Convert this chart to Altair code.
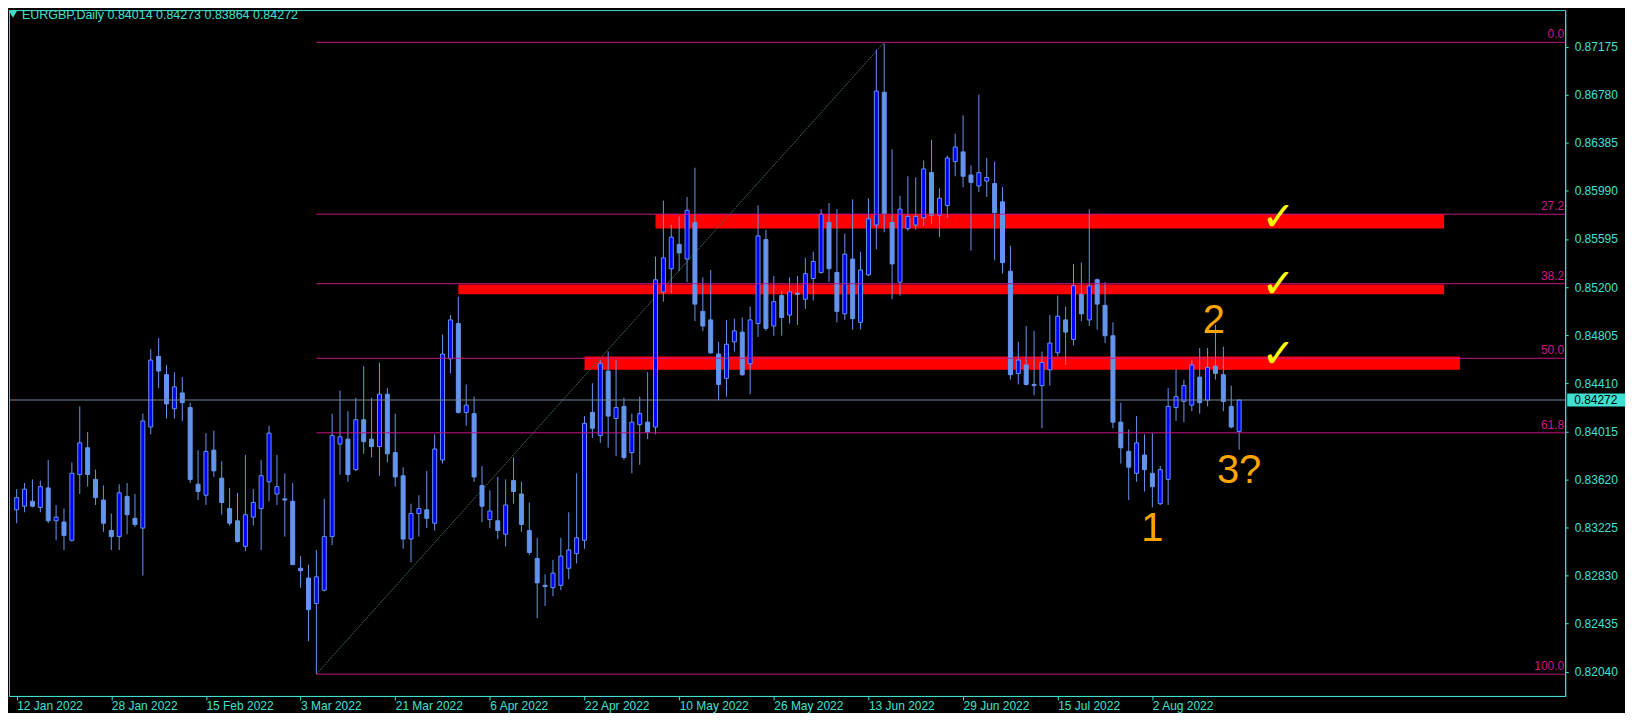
import altair as alt
import pandas as pd

# ---- daily candles EURGBP (bar 0 = 12 Jan 2022, weekdays only) ----
opens = [0.8337, 0.8340, 0.8344, 0.8339, 0.8355, 0.8328, 0.8327, 0.8312, 0.8366, 0.8388,
         0.8362, 0.8345, 0.8320, 0.8315, 0.8348, 0.8330, 0.8322, 0.8405, 0.8463, 0.8448,
         0.8420, 0.8433, 0.8421, 0.8358, 0.8349, 0.8386, 0.8363, 0.8338, 0.8328, 0.8307,
         0.8331, 0.8338, 0.8360, 0.8350, 0.8346, 0.8344, 0.8289, 0.8281, 0.8260, 0.8271,
         0.8315, 0.8391, 0.8395, 0.8370, 0.8411, 0.8395, 0.8389, 0.8432, 0.8384, 0.8365,
         0.8313, 0.8334, 0.8337, 0.8326, 0.8378, 0.8461, 0.8490, 0.8417, 0.8416, 0.8357,
         0.8329, 0.8328, 0.8317, 0.8361, 0.8350, 0.8320, 0.8297, 0.8275, 0.8273, 0.8275,
         0.8289, 0.8301, 0.8312, 0.8417, 0.8398, 0.8451, 0.8412, 0.8422, 0.8384, 0.8407,
         0.8409, 0.8405, 0.8516, 0.8535, 0.8555, 0.8543, 0.8573, 0.8500, 0.8493, 0.8465,
         0.8445, 0.8475, 0.8483, 0.8457, 0.8490, 0.8559, 0.8488, 0.8513, 0.8497, 0.8515,
         0.8510, 0.8527, 0.8532, 0.8573, 0.8532, 0.8498, 0.8543, 0.8491, 0.8530, 0.8571,
         0.8680, 0.8573, 0.8524, 0.8568, 0.8571, 0.8577, 0.8614, 0.8579, 0.8587, 0.8623,
         0.8631, 0.8612, 0.8603, 0.8607, 0.8605, 0.8590, 0.8533, 0.8449, 0.8456, 0.8440,
         0.8439, 0.8452, 0.8466, 0.8493, 0.8477, 0.8514, 0.8493, 0.8526, 0.8505, 0.8480,
         0.8409, 0.8385, 0.8367, 0.8382, 0.8367, 0.8342, 0.8362, 0.8421, 0.8426, 0.8423,
         0.8446, 0.8427, 0.8455, 0.8448, 0.8422, 0.84014]
highs = [0.8354, 0.8359, 0.8362, 0.8361, 0.8378, 0.8341, 0.8338, 0.8376, 0.8422, 0.8401,
         0.8370, 0.8357, 0.8334, 0.8358, 0.8359, 0.8350, 0.8416, 0.8469, 0.8478, 0.8456,
         0.8450, 0.8446, 0.8425, 0.8386, 0.8400, 0.8402, 0.8377, 0.8355, 0.8351, 0.8382,
         0.8354, 0.8378, 0.8406, 0.8382, 0.8367, 0.8359, 0.8299, 0.8292, 0.8304, 0.8346,
         0.8416, 0.8435, 0.8418, 0.8429, 0.8455, 0.8429, 0.8458, 0.8437, 0.8416, 0.8372,
         0.8342, 0.8349, 0.8369, 0.8399, 0.8481, 0.8497, 0.8512, 0.8440, 0.8430, 0.8373,
         0.8353, 0.8364, 0.8362, 0.8380, 0.8360, 0.8343, 0.8314, 0.8284, 0.8296, 0.8314,
         0.8335, 0.8367, 0.8414, 0.8441, 0.8460, 0.8467, 0.8460, 0.8429, 0.8416, 0.8430,
         0.8450, 0.8545, 0.8591, 0.8571, 0.8578, 0.8594, 0.8618, 0.8528, 0.8534, 0.8475,
         0.8493, 0.8494, 0.8495, 0.8504, 0.8587, 0.8567, 0.8529, 0.8517, 0.8528, 0.8529,
         0.8544, 0.8549, 0.8584, 0.8589, 0.8584, 0.8564, 0.8592, 0.8549, 0.8593, 0.8715,
         0.8720, 0.8633, 0.8595, 0.8611, 0.8610, 0.8624, 0.8641, 0.8601, 0.8628, 0.8646,
         0.8661, 0.8620, 0.8678, 0.8626, 0.8623, 0.8602, 0.8554, 0.8475, 0.8488, 0.8484,
         0.8467, 0.8497, 0.8513, 0.8504, 0.8539, 0.8540, 0.8584, 0.8527, 0.8524, 0.8491,
         0.8425, 0.8403, 0.8414, 0.8399, 0.8400, 0.8373, 0.8437, 0.8452, 0.8444, 0.8460,
         0.8470, 0.8470, 0.8489, 0.8471, 0.8439, 0.84273]
lows = [0.8326, 0.8335, 0.8339, 0.8335, 0.8326, 0.8312, 0.8304, 0.8311, 0.8350, 0.8356,
        0.8341, 0.8319, 0.8304, 0.8304, 0.8317, 0.8323, 0.8283, 0.8399, 0.8437, 0.8412,
        0.8412, 0.8410, 0.8359, 0.8345, 0.8341, 0.8364, 0.8333, 0.8324, 0.8310, 0.8303,
        0.8324, 0.8304, 0.8344, 0.8341, 0.8315, 0.8292, 0.8273, 0.8229, 0.8202, 0.8270,
        0.8308, 0.8366, 0.8360, 0.8369, 0.8383, 0.8380, 0.8365, 0.8376, 0.8356, 0.8305,
        0.8294, 0.8315, 0.8322, 0.8320, 0.8375, 0.8449, 0.8416, 0.8406, 0.8360, 0.8327,
        0.8322, 0.8313, 0.8307, 0.8342, 0.8319, 0.8300, 0.8248, 0.8258, 0.8266, 0.8271,
        0.8280, 0.8293, 0.8305, 0.8396, 0.8392, 0.8388, 0.8381, 0.8378, 0.8367, 0.8374,
        0.8395, 0.8399, 0.8508, 0.8515, 0.8533, 0.8524, 0.8492, 0.8484, 0.8465, 0.8427,
        0.8430, 0.8467, 0.8447, 0.8432, 0.8479, 0.8484, 0.8480, 0.8480, 0.8490, 0.8489,
        0.8502, 0.8509, 0.8531, 0.8524, 0.8491, 0.8493, 0.8485, 0.8485, 0.8529, 0.8551,
        0.8565, 0.8510, 0.8513, 0.8566, 0.8567, 0.8570, 0.8572, 0.8561, 0.8577, 0.8611,
        0.8602, 0.8550, 0.8598, 0.8594, 0.8542, 0.8531, 0.8444, 0.8440, 0.8439, 0.8431,
        0.8404, 0.8439, 0.8463, 0.8456, 0.8472, 0.8492, 0.8488, 0.8485, 0.8474, 0.8404,
        0.8375, 0.8345, 0.8360, 0.8352, 0.8339, 0.8341, 0.8341, 0.8410, 0.8409, 0.8418,
        0.8416, 0.8422, 0.8444, 0.8418, 0.8404, 0.83864]
closes = [0.8347, 0.8354, 0.8340, 0.8356, 0.8328, 0.8331, 0.8316, 0.8367, 0.8392, 0.8366,
          0.8347, 0.8326, 0.8315, 0.8351, 0.8333, 0.8325, 0.8410, 0.8460, 0.8451, 0.8424,
          0.8438, 0.8425, 0.8362, 0.8352, 0.8385, 0.8369, 0.8343, 0.8326, 0.8311, 0.8333,
          0.8343, 0.8365, 0.8400, 0.8356, 0.8345, 0.8292, 0.8287, 0.8255, 0.8282, 0.8315,
          0.8398, 0.8397, 0.8366, 0.8411, 0.8393, 0.8389, 0.8432, 0.8383, 0.8364, 0.8313,
          0.8334, 0.8338, 0.8330, 0.8387, 0.8465, 0.8493, 0.8417, 0.8423, 0.8364, 0.8340,
          0.8336, 0.8320, 0.8341, 0.8352, 0.8325, 0.8302, 0.8277, 0.8274, 0.8285, 0.8299,
          0.8304, 0.8314, 0.8408, 0.8404, 0.8457, 0.8414, 0.8421, 0.8380, 0.8409, 0.8416,
          0.8401, 0.8526, 0.8544, 0.8561, 0.8548, 0.8583, 0.8506, 0.8488, 0.8466, 0.8440,
          0.8473, 0.8484, 0.8448, 0.8493, 0.8562, 0.8486, 0.8508, 0.8495, 0.8516, 0.8514,
          0.8531, 0.8541, 0.8580, 0.8535, 0.8500, 0.8547, 0.8494, 0.8534, 0.8576, 0.8681,
          0.8580, 0.8539, 0.8584, 0.8578, 0.8578, 0.8617, 0.8579, 0.8593, 0.8626, 0.8635,
          0.8611, 0.8606, 0.8614, 0.8610, 0.8581, 0.8540, 0.8448, 0.8460, 0.8440, 0.8439,
          0.8458, 0.8474, 0.8496, 0.8483, 0.8521, 0.8498, 0.8521, 0.8506, 0.8480, 0.8409,
          0.8388, 0.8372, 0.8392, 0.8370, 0.8356, 0.8370, 0.8422, 0.8430, 0.8439, 0.8456,
          0.8425, 0.8454, 0.8449, 0.8426, 0.8405, 0.84272]

# ---- axes ----
date_tick_bars = [0, 12, 24, 36, 48, 60, 72, 84, 96, 108, 120, 132, 144]
date_tick_labels = ["12 Jan 2022", "28 Jan 2022", "15 Feb 2022", "3 Mar 2022", "21 Mar 2022",
                    "6 Apr 2022", "22 Apr 2022", "10 May 2022", "26 May 2022", "13 Jun 2022",
                    "29 Jun 2022", "15 Jul 2022", "2 Aug 2022"]
price_ticks = [0.87175, 0.86780, 0.86385, 0.85990, 0.85595, 0.85200, 0.84805,
               0.84410, 0.84015, 0.83620, 0.83225, 0.82830, 0.82435, 0.82040]

# ---- Fibonacci retracement ----
fib_high = 0.8721
fib_low = 0.8202
fib_low_bar = 38
fib_high_bar = 110
fib_levels = [0.0, 27.2, 38.2, 50.0, 61.8, 100.0]
fib_texts = ["0.0", "27.2", "38.2", "50.0", "61.8", "100.0"]

# ---- red zones ----
zone_start = [81, 56, 72]
zone_end = [181, 181, 183]
zone_low = [0.8568, 0.8514, 0.8452]
zone_high = [0.8580, 0.8522, 0.8463]

# ---- annotations ----
wave_text = ["1", "2", "3?"]
wave_bar = [144, 151.8, 155]
wave_price = [0.8321, 0.8492, 0.8369]
check_bar = [160, 160, 160]
check_price = [0.8577, 0.8522, 0.8464]

last_price = closes[-1]
header = "EURGBP,Daily  %.5f %.5f %.5f %.5f" % (opens[-1], highs[-1], lows[-1], closes[-1])

W, H = 1561, 688
AXC = "#40E0D0"
FONT = "Liberation Sans"

xscale = alt.Scale(domain=[-0.34, 195.71], nice=False, zero=False)
yscale = alt.Scale(domain=[0.81882, 0.87434], nice=False, zero=False)
label_expr = "[" + ",".join("'%s'" % s for s in date_tick_labels) + "][round(datum.value / 12)]"
xaxis = alt.Axis(values=date_tick_bars, labelExpr=label_expr, title=None, grid=False,
                 orient="bottom", labelAlign="left", labelBaseline="top", labelPadding=1,
                 tickSize=4, labelFlush=False, labelOverlap=False)
yaxis = alt.Axis(values=price_ticks, format=".5f", title=None, grid=False, orient="right",
                 tickSize=3, labelPadding=6, labelOverlap=False, labelFlush=False)


def X(field):
    return alt.X(field, type="quantitative", scale=xscale, axis=xaxis)


def Y(field):
    return alt.Y(field, type="quantitative", scale=yscale, axis=yaxis)


candles = pd.DataFrame({"bar": list(range(len(opens))), "open": opens, "high": highs,
                        "low": lows, "close": closes})
candles["dir"] = ["up" if c > o else "down" for o, c in zip(opens, closes)]

fib = pd.DataFrame({"level": fib_levels, "label": fib_texts})
fib["price"] = fib_high - fib["level"] / 100.0 * (fib_high - fib_low)
fib["start"] = fib_low_bar

zones = pd.DataFrame({"start": zone_start, "end": zone_end, "lo": zone_low, "hi": zone_high})
trend = pd.DataFrame({"x1": [fib_low_bar], "x2": [fib_high_bar], "y1": [fib_low], "y2": [fib_high]})
pline = pd.DataFrame({"price": [last_price], "label": ["%.5f" % last_price]})
waves = pd.DataFrame({"bar": wave_bar, "price": wave_price, "t": wave_text})
checks = pd.DataFrame({"bar": check_bar, "price": check_price, "t": ["\u2713"] * 3})
head = pd.DataFrame({"t": [header]})

zone_layer = alt.Chart(zones).mark_rect(color="#FF0000").encode(
    x=X("start"), x2="end", y=Y("lo"), y2="hi")

trend_layer = alt.Chart(trend).mark_rule(color="#3E6660", strokeWidth=1, strokeDash=[2, 1]).encode(
    x=X("x1"), x2="x2", y=Y("y1"), y2="y2")

wick_layer = alt.Chart(candles).mark_rule(color="#6495ED", strokeWidth=1).encode(
    x=X("bar"), y=Y("low"), y2="high")

body_layer = alt.Chart(candles).mark_bar(size=4, stroke="#6495ED", strokeWidth=1).encode(
    x=X("bar"), y=Y("open"), y2="close",
    color=alt.Color("dir:N", scale=alt.Scale(domain=["up", "down"], range=["#0000FF", "#6495ED"]),
                    legend=None))

fib_line_layer = alt.Chart(fib).mark_rule(color="#C71585", strokeWidth=1).encode(
    x=X("start"), x2=alt.value(W), y=Y("price"))

fib_text_layer = alt.Chart(fib).mark_text(align="right", baseline="bottom", dy=-1, color="#D0168C",
                                          font=FONT, fontSize=12).encode(
    x=alt.value(W - 1), y=Y("price"), text="label")

price_line_layer = alt.Chart(pline).mark_rule(color="#778899", strokeWidth=1).encode(y=Y("price"))

price_tag_layer = alt.Chart(pline).mark_bar(orient="horizontal", size=13, color=AXC).encode(
    x=alt.value(W + 2), x2=alt.value(W + 60), y=Y("price"))

price_tag_text = alt.Chart(pline).mark_text(align="left", baseline="middle", color="#000000",
                                            font=FONT, fontSize=12).encode(
    x=alt.value(W + 9), y=Y("price"), text="label")

wave_layer = alt.Chart(waves).mark_text(align="center", baseline="middle", color="#FFA500",
                                        font=FONT, fontSize=40).encode(
    x=X("bar"), y=Y("price"), text="t")

check_layer = alt.Chart(checks).mark_text(align="center", baseline="middle", color="#FFFF00",
                                          font="DejaVu Sans", fontSize=40).encode(
    x=X("bar"), y=Y("price"), text="t")

head_tri = alt.Chart(head).mark_point(shape="triangle-down", filled=True, size=70, color=AXC,
                                      opacity=1).encode(x=alt.value(4), y=alt.value(4))
head_text = alt.Chart(head).mark_text(align="left", baseline="middle", color=AXC, font=FONT,
                                      fontSize=12.5).encode(x=alt.value(13), y=alt.value(5), text="t")

chart = alt.layer(
    zone_layer, trend_layer, wick_layer, body_layer, fib_line_layer, fib_text_layer,
    price_line_layer, price_tag_layer, price_tag_text, wave_layer, check_layer, head_tri, head_text
).properties(
    width=W, height=H, padding=0, background="#000000"
).configure_view(
    stroke=AXC, strokeWidth=1
).configure_axis(
    domainColor=AXC, tickColor=AXC, labelColor=AXC, labelFont=FONT, labelFontSize=12
)

chart.save("out.html", embed_options={"renderer": "svg", "actions": False})
